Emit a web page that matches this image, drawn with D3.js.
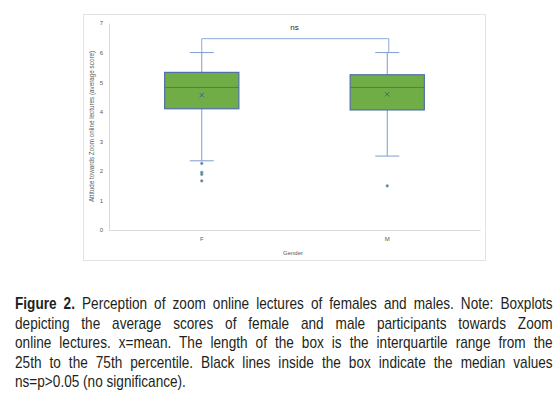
<!DOCTYPE html>
<html>
<head>
<meta charset="utf-8">
<script src="https://cdn.jsdelivr.net/npm/d3@7"></script>
<style>
  body { margin: 0; background: #fff; }
  #caption { position: absolute; left: 15px; top: 294px; width: 538px;
    font-family: "Liberation Sans", Arial, sans-serif;
    font-size: 17px; line-height: 19.5px; color: #231f20; }
  #caption div { width: 672px; transform: scaleX(0.8); transform-origin: 0 0;
    text-align: justify; text-align-last: justify; white-space: nowrap; }
  #caption div.last { text-align-last: left; }
</style>
</head>
<body>
<svg id="chart" width="558" height="290" style="position:absolute;left:0;top:0"></svg>
<div id="caption"></div>
<script>
// data
var categories = ["F", "M"];
var whiskerLow = [2.34, 2.5];
var q1 = [4.1, 4.06];
var median = [4.82, 4.82];
var q3 = [5.33, 5.25];
var whiskerHigh = [6, 6];
var means = [4.56, 4.59];
var outliers = [[2.25, 1.95, 1.88, 1.66], [1.49]];
var yTicks = [0, 1, 2, 3, 4, 5, 6, 7];
var bracketValue = 6.47;

var captionLines = [
  ["Figure 2.", " Perception of zoom online lectures of females and males. Note: Boxplots"],
  ["", "depicting the average scores of female and male participants towards Zoom"],
  ["", "online lectures. x=mean. The length of the box is the interquartile range from the"],
  ["", "25th to the 75th percentile. Black lines inside the box indicate the median values"],
  ["", "ns=p>0.05 (no significance)."]
];

var svg = d3.select("#chart");

// chart frame
svg.append("rect")
  .attr("x", 83.5).attr("y", 14.5)
  .attr("width", 402).attr("height", 246)
  .attr("fill", "none").attr("stroke", "#e3e3e3");

var x = d3.scaleBand().domain(categories).range([109, 480]);
var y = d3.scaleLinear().domain([0, 7]).range([230, 23]);
var boxW = x.bandwidth() * 0.4;
var capW = 24;
var cx = function(i) { return x(categories[i]) + x.bandwidth() / 2; };

// y axis
var yAxis = d3.axisLeft(y).tickValues(yTicks).tickFormat(d3.format("d")).tickSize(0).tickPadding(6);
var gy = svg.append("g").attr("transform", "translate(109,0)").call(yAxis);
gy.select(".domain").attr("stroke", "#d9d9d9");
gy.selectAll("text").attr("fill", "#595959").style("font-size", "6px").style("font-family", "Liberation Sans, sans-serif");

// x axis
var xAxis = d3.axisBottom(x).tickSize(0).tickPadding(7);
var gx = svg.append("g").attr("transform", "translate(0,230)").call(xAxis);
gx.select(".domain").attr("stroke", "#d9d9d9").attr("stroke-width", 1.2);
gx.selectAll("text").attr("fill", "#595959").style("font-size", "6px").style("font-family", "Liberation Sans, sans-serif");

// axis titles
svg.append("text")
  .attr("transform", "translate(92," + ((y(0) + y(7)) / 2) + ") rotate(-90)")
  .attr("text-anchor", "middle").attr("dominant-baseline", "middle")
  .attr("fill", "#595959").style("font-size", "6.3px").style("font-family", "Liberation Sans, sans-serif")
  .text("Attitude towards Zoom online lectures (average score)");
svg.append("text")
  .attr("x", 293).attr("y", 255)
  .attr("text-anchor", "middle")
  .attr("fill", "#595959").style("font-size", "6px").style("font-family", "Liberation Sans, sans-serif")
  .text("Gender");

// significance bracket
svg.append("path")
  .attr("d", "M" + cx(0) + "," + y(whiskerHigh[0]) + "V" + y(bracketValue) + "H" + (cx(1) + 1.5) + "V" + y(whiskerHigh[1]))
  .attr("fill", "none").attr("stroke", "#8eaadb").attr("stroke-width", 1);
svg.append("text")
  .attr("x", (cx(0) + cx(1)) / 2).attr("y", 30)
  .attr("text-anchor", "middle")
  .attr("fill", "#262626").style("font-size", "8px").style("font-family", "Liberation Sans, sans-serif")
  .text("ns");

// boxes
categories.forEach(function(c, i) {
  var g = svg.append("g");
  var xc = cx(i);
  // whiskers
  g.append("line").attr("x1", xc).attr("x2", xc).attr("y1", y(whiskerHigh[i])).attr("y2", y(q3[i]))
    .attr("stroke", "#7f9bcf").attr("stroke-width", 1);
  g.append("line").attr("x1", xc).attr("x2", xc).attr("y1", y(q1[i])).attr("y2", y(whiskerLow[i]))
    .attr("stroke", "#7f9bcf").attr("stroke-width", 1);
  g.append("line").attr("x1", xc - capW / 2).attr("x2", xc + capW / 2).attr("y1", y(whiskerHigh[i])).attr("y2", y(whiskerHigh[i]))
    .attr("stroke", "#7f9bcf").attr("stroke-width", 1);
  g.append("line").attr("x1", xc - capW / 2).attr("x2", xc + capW / 2).attr("y1", y(whiskerLow[i])).attr("y2", y(whiskerLow[i]))
    .attr("stroke", "#7f9bcf").attr("stroke-width", 1);
  // box
  g.append("rect")
    .attr("x", xc - boxW / 2).attr("y", y(q3[i]))
    .attr("width", boxW).attr("height", y(q1[i]) - y(q3[i]))
    .attr("fill", "#70ad47").attr("stroke", "#4f6fa8").attr("stroke-width", 1.2);
  g.append("line").attr("x1", xc - boxW / 2).attr("x2", xc + boxW / 2).attr("y1", y(median[i])).attr("y2", y(median[i]))
    .attr("stroke", "#4f6fa8").attr("stroke-width", 1);
  // mean marker
  var m = y(means[i]), s = 2.2;
  g.append("path")
    .attr("d", "M" + (xc - s) + "," + (m - s) + "L" + (xc + s) + "," + (m + s) + "M" + (xc + s) + "," + (m - s) + "L" + (xc - s) + "," + (m + s))
    .attr("stroke", "#44658f").attr("stroke-width", 1);
  // outliers
  g.selectAll(".out").data(outliers[i]).enter().append("circle")
    .attr("cx", xc).attr("cy", function(d) { return y(d); })
    .attr("r", 1.4)
    .attr("fill", "#4f8585").attr("stroke", "#9fb4d9").attr("stroke-width", 0.5);
});

// caption
var cap = d3.select("#caption");
captionLines.forEach(function(l, i) {
  var d = cap.append("div").attr("class", i == captionLines.length - 1 ? "last" : null);
  if (l[0]) d.append("b").text(l[0]);
  d.append("span").text(l[1]);
});
</script>
</body>
</html>
